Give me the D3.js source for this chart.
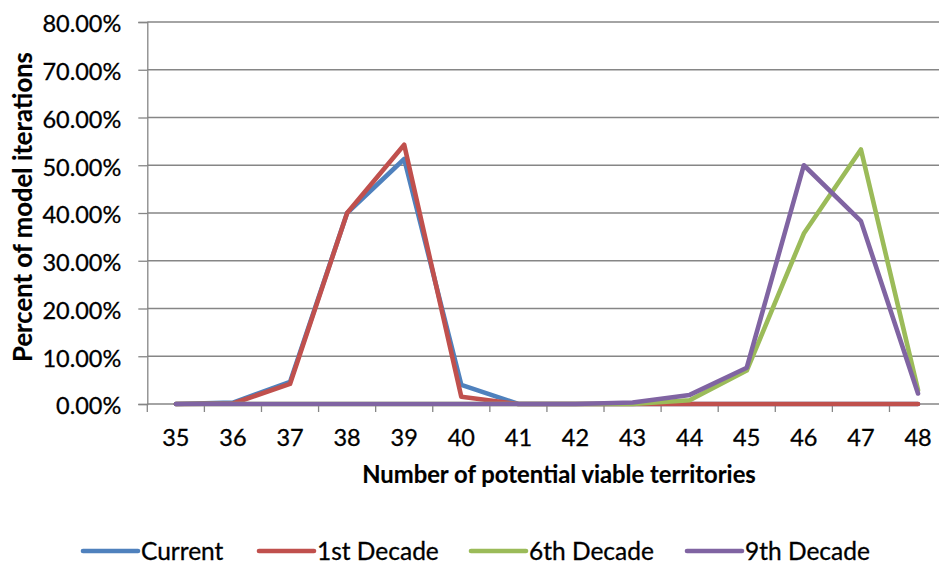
<!DOCTYPE html>
<html>
<head>
<meta charset="utf-8">
<script src="https://cdn.jsdelivr.net/npm/d3@7"></script>
<style>
  html, body { margin: 0; padding: 0; background: #fff; }
  svg { display: block; }
  text { font-family: Lato, "Open Sans", sans-serif; fill: #000; stroke: #000; stroke-width: 0.3px; }
</style>
</head>
<body>
<svg id="chart" width="939" height="563"></svg>
<script>
// ---- data ----
const categories = [35, 36, 37, 38, 39, 40, 41, 42, 43, 44, 45, 46, 47, 48];
const seriesNames = ["Current", "1st Decade", "6th Decade", "9th Decade"];
const currentVals = [0, 0.3, 4.6, 40.0, 51.3, 4.0, 0, 0, 0, 0, 0, 0, 0, 0];
const firstDecadeVals = [0, 0.1, 4.2, 40.0, 54.3, 1.5, 0, 0, 0, 0, 0, 0, 0, 0];
const sixthDecadeVals = [0, 0, 0, 0, 0, 0, 0, 0, 0, 0.8, 7.0, 35.7, 53.3, 2.9];
const ninthDecadeVals = [0, 0, 0, 0, 0, 0, 0, 0, 0.3, 1.9, 7.6, 50.0, 38.3, 2.2];
const yTicks = [0, 10, 20, 30, 40, 50, 60, 70, 80];
const colors = ["#4F81BD", "#C0504D", "#9BBB59", "#8064A2"];
const xTitle = "Number of potential viable territories";
const yTitle = "Percent of model iterations";

const series = [currentVals, firstDecadeVals, sixthDecadeVals, ninthDecadeVals].map((v, i) => ({
  name: seriesNames[i], color: colors[i], values: v
}));

// ---- layout ----
const svg = d3.select("#chart");
const plotLeft = 147.3, bandW = 57.09;
const plotTop = 22, plotBottom = 404;

const x = d3.scaleBand().domain(categories).range([plotLeft, plotLeft + bandW * categories.length]).padding(0);
const y = d3.scaleLinear().domain([0, 80]).range([plotBottom, plotTop]);
const gridColor = "#868686";

// gridlines
svg.append("g").selectAll("line").data(yTicks.filter(d => d > 0)).join("line")
  .attr("x1", plotLeft).attr("x2", x.range()[1])
  .attr("y1", d => y(d)).attr("y2", d => y(d))
  .attr("stroke", gridColor).attr("stroke-width", 1.3);

// y axis
const yAxis = svg.append("g").attr("transform", `translate(${plotLeft},0)`)
  .call(d3.axisLeft(y).tickValues(yTicks).tickSize(9).tickPadding(17)
    .tickFormat(d => d.toFixed(2) + "%"));
yAxis.select(".domain").attr("stroke", gridColor).attr("stroke-width", 1.3);
yAxis.selectAll(".tick line").attr("stroke", gridColor).attr("stroke-width", 1.3);
yAxis.selectAll(".tick text").style("font-size", "23.5px").style("font-family", "Lato").attr("dy", "0.42em");

// x axis: ticks at band edges, labels at centers
const edges = categories.map(c => x(c)).concat([x.range()[1]]);
svg.append("g").selectAll("line").data(edges).join("line")
  .attr("x1", d => d).attr("x2", d => d).attr("y1", plotBottom).attr("y2", plotBottom + 8)
  .attr("stroke", gridColor).attr("stroke-width", 1.3);
svg.append("line").attr("x1", plotLeft).attr("x2", x.range()[1]).attr("y1", plotBottom).attr("y2", plotBottom)
  .attr("stroke", gridColor).attr("stroke-width", 1.3);
const xAxis = svg.append("g").attr("transform", `translate(0,${plotBottom})`)
  .call(d3.axisBottom(x).tickSize(0).tickPadding(0));
xAxis.select(".domain").remove();
xAxis.selectAll(".tick text").attr("y", 0).attr("dy", 0).attr("transform", "translate(0,42)")
  .style("font-size", "23.5px").style("font-family", "Lato");

// titles
svg.append("text").attr("x", 559).attr("y", 483).attr("text-anchor", "middle")
  .style("font-size", "23.8px").style("font-weight", "bold").style("stroke-width", "0.15px").text(xTitle);
svg.append("text").attr("transform", "translate(31.5,207) rotate(-90)").attr("text-anchor", "middle")
  .style("font-size", "25.7px").style("font-weight", "bold").style("stroke-width", "0.15px").text(yTitle);

// lines
const line = d3.line()
  .x((d, i) => x(categories[i]) + x.bandwidth() / 2)
  .y(d => y(d));
svg.append("g").selectAll("path").data(series).join("path")
  .attr("d", s => line(s.values))
  .attr("fill", "none").attr("stroke", s => s.color)
  .attr("stroke-width", 4.6).attr("stroke-linejoin", "round").attr("stroke-linecap", "round");

// legend
const legendX = [83, 259, 471, 687];
const ly = 551;
const legend = svg.append("g");
series.forEach((s, i) => {
  const lx = legendX[i];
  legend.append("line").attr("x1", lx).attr("x2", lx + 55).attr("y1", ly).attr("y2", ly)
    .attr("stroke", s.color).attr("stroke-width", 4.6).attr("stroke-linecap", "round");
  legend.append("text").attr("x", lx + 58).attr("y", ly + 8.5)
    .style("font-size", "24.5px").text(s.name);
});
</script>
</body>
</html>
